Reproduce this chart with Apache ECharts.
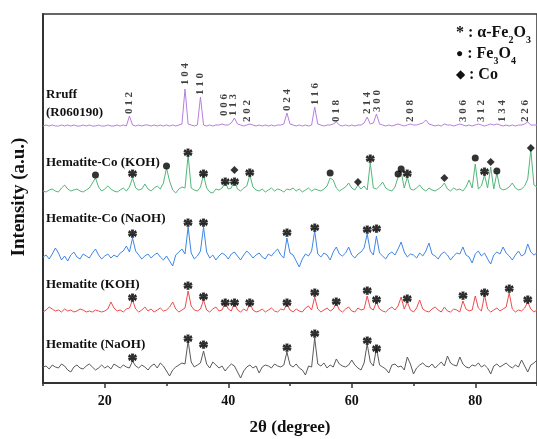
<!DOCTYPE html>
<html>
<head>
<meta charset="utf-8">
<title>XRD patterns</title>
<script src="https://cdn.jsdelivr.net/npm/echarts@6/dist/echarts.min.js"></script>
<style>
    html, body { margin: 0; padding: 0; background: #fff; }
    #xrd_patterns { width: 537px; height: 439px; }
</style>
</head>
<body>
<div id="xrd_patterns"></div>
<script>

// Measurement grid (2theta, degree)
var thetaStart = 10;
var thetaStep = 0.5;

// Relative intensities above each trace's baseline, one value per grid step (10 .. 90)
var rruffCounts = [
    0,1,0,1,0,0,1,0,1,0,  1,0,0,1,0,1,0,0,1,0,  0,1,0,0,1,0,1,0,10,1,  0,1,0,1,1,0,1,0,1,0,
    1,0,1,0,1,2,37,2,1,0,  1,29,1,0,1,0,1,1,2,1,  1,3,8,2,1,0,1,2,1,0,  1,0,1,0,1,0,1,1,2,13,
    2,1,0,1,0,1,0,1,19,2,  1,0,1,1,2,4,1,0,1,0,  1,0,1,1,3,9,2,3,12,2,  1,0,1,0,1,2,1,0,1,2,
    1,1,2,3,6,2,1,0,1,0,  2,1,1,0,1,2,1,0,1,0,  1,2,1,0,1,2,1,2,1,0,  1,0,1,0,1,1,2,4,1,1,
    1
];
var coKohCounts = [
    0,-1,1,2,0,-1,3,6,2,0,  1,2,0,-1,1,3,8,13,4,0,  2,5,2,0,-1,1,3,0,4,13,  3,1,2,7,2,0,3,5,2,8,
    23,10,1,-2,2,4,3,36,3,1,  0,4,16,3,-1,-2,2,1,3,9,  2,3,11,2,0,3,5,16,4,1,  0,2,-1,1,3,0,2,1,-1,2,
    1,3,0,2,-1,1,3,0,2,1,  0,2,5,13,11,3,0,2,4,8,  3,1,6,2,5,1,28,3,2,5,  9,3,1,0,4,14,19,3,14,2,
    1,3,6,2,0,3,1,0,2,4,  8,2,0,3,1,2,0,4,11,3,  27,2,5,16,3,24,2,18,3,1,  2,4,8,3,1,2,5,12,41,6,
    4
];
var coNaohCounts = [
    0,2,-2,3,9,4,-3,1,-4,2,  5,0,-2,3,1,-1,4,8,2,-2,  1,3,-1,2,0,4,6,11,5,19,  6,2,-2,1,3,-1,2,4,0,-3,
    1,-4,-9,2,5,8,3,30,4,-2,  1,6,30,5,-1,2,-3,1,4,2,  -2,3,5,1,-3,2,6,3,-1,2,  4,0,-2,3,1,5,8,2,-1,19,
    4,2,-4,-10,-2,3,1,6,26,3,  0,4,2,-3,5,10,3,1,4,10,  2,-1,3,5,9,23,6,2,21,4,  1,-2,3,5,2,8,15,5,0,3,
    2,-1,4,1,6,14,3,1,-2,3,  5,2,-3,1,4,3,10,2,0,-6,  3,6,1,4,-2,-7,2,5,3,10,  4,1,-3,2,6,1,3,13,5,2,
    4
];
var hemKohCounts = [
    0,2,5,3,1,2,0,3,1,2,  0,1,3,2,0,1,0,2,1,0,  1,3,10,4,1,2,0,3,4,12,  3,0,2,5,1,3,0,2,4,1,
    2,5,10,3,0,2,4,21,6,2,  1,3,12,2,0,3,5,1,2,9,  3,1,9,2,0,3,1,9,2,0,  1,3,0,2,4,1,0,3,2,8,
    2,0,3,1,0,4,6,2,15,3,  0,2,4,1,3,9,2,0,3,5,  1,0,4,2,3,16,4,2,10,3,  1,0,3,5,2,6,15,3,10,2,
    0,4,12,3,1,0,3,5,2,0,  5,1,0,3,2,0,11,3,1,2,  16,4,1,17,3,0,2,4,1,3,  5,19,3,0,2,1,4,10,3,0,
    2
];
var hemNaohCounts = [
    1,2,-1,3,1,0,4,2,-2,-4,  1,3,0,-1,2,4,1,-2,0,3,  0,2,-1,4,2,0,3,1,0,7,  2,0,3,1,-2,2,4,0,5,2,
    -3,-8,-2,1,3,5,4,27,6,1,  3,5,17,4,0,6,3,0,2,-3,  1,4,2,-4,-10,-3,1,3,0,2,  -5,1,3,2,0,4,2,1,3,16,
    3,1,4,0,-2,-7,2,1,30,4,  2,5,0,3,1,9,4,2,1,3,  8,3,0,-2,5,24,6,2,20,3,  1,-1,-5,3,4,1,2,-2,11,4,
    -6,0,3,5,2,1,4,0,3,6,  2,12,5,3,2,11,4,1,0,3,  2,5,1,3,0,-6,2,4,1,3,  5,2,0,3,1,8,2,-4,3,5,
    8
];

// Trace baselines (stacking offsets)
var rruffOffset = 257;
var coKohOffset = 192;
var coNaohOffset = 126;
var hemKohOffset = 71;
var hemNaohOffset = 15;

// Rruff reference reflections: hkl, 2theta, label height above baseline
var hklLabels = ['0 1 2', '1 0 4', '1 1 0', '0 0 6', '1 1 3', '2 0 2', '0 2 4', '1 1 6', '0 1 8', '2 1 4', '3 0 0', '2 0 8', '3 0 6', '3 1 2', '1 3 4', '2 2 6'];
var hklTheta = [24.0, 33.1, 35.5, 39.4, 40.8, 43.05, 49.5, 54.1, 57.5, 62.5, 64.1, 69.5, 78.0, 80.9, 84.4, 88.1];
var hklHeight = [23, 52, 42, 21, 21, 15, 26, 32, 15, 23, 25, 15, 15, 15, 15, 15];

// Phase markers: [2theta, height above baseline]
var coKohHematite = [[24.5, 18], [33.5, 39], [36.0, 18], [39.5, 10], [41.0, 10], [43.5, 19], [63.0, 33], [69.0, 18], [81.5, 20]];
var coKohMagnetite = [[18.5, 16], [30.0, 25], [56.5, 18], [67.5, 17], [68.0, 22], [80.0, 33], [83.5, 20]];
var coKohCobalt = [[41.0, 21], [61.0, 9], [75.0, 13], [82.5, 29], [89.0, 43]];
var coNaohHematite = [[24.5, 24], [33.5, 35], [36.0, 35], [49.5, 25], [54.0, 30], [62.5, 28], [64.0, 29]];
var hemKohHematite = [[24.5, 15], [33.5, 27], [36.0, 16], [39.5, 10], [41.0, 10], [43.5, 10], [49.5, 10], [54.0, 20], [57.5, 11], [62.5, 22], [64.0, 13], [69.0, 14], [78.0, 17], [81.5, 20], [85.5, 24], [88.5, 13]];
var hemNaohHematite = [[24.5, 11], [33.5, 30], [36.0, 24], [49.5, 21], [54.0, 35], [62.5, 28], [64.0, 20]];

// Tick labels
var xMajorTicks = [20, 40, 60, 80];
var xMinorTicks = [10, 30, 50, 70, 90];


// Setup module
// ------------------------------

var XrdPatterns = function() {

    var serif = '"Liberation Serif", "Times New Roman", serif';

    // Turn relative counts into [2theta, intensity] pairs
    var toPairs = function(counts, offset) {
        return counts.map(function(c, i) {
            return [thetaStart + i * thetaStep, c + offset];
        });
    };

    var toMarks = function(marks, offset) {
        return marks.map(function(m) {
            return [m[0], m[1] + offset];
        });
    };

    var traceSeries = function(name, counts, offset, color) {
        return {
            name: name,
            type: 'line',
            data: toPairs(counts, offset),
            symbol: 'none',
            silent: true,
            lineStyle: { color: color, width: 1 },
            z: 2
        };
    };

    var starSeries = function(marks, offset) {
        return {
            type: 'scatter',
            data: toMarks(marks, offset),
            symbolSize: 1,
            itemStyle: { color: 'rgba(0,0,0,0)' },
            label: {
                show: true,
                position: 'inside',
                formatter: '*',
                color: '#111',
                fontFamily: serif,
                fontWeight: 'bold',
                fontSize: 19,
                textBorderColor: '#111',
                textBorderWidth: 1,
                offset: [0, 5]
            },
            z: 5
        };
    };

    var symbolSeries = function(marks, offset, symbol, size) {
        return {
            type: 'scatter',
            data: toMarks(marks, offset),
            symbol: symbol,
            symbolSize: size,
            itemStyle: { color: '#000' },
            z: 6
        };
    };

    var _xrdChart = function() {
        if (typeof echarts == 'undefined') {
            console.warn('Warning - echarts.min.js is not loaded.');
            return;
        }

        var chart_element = document.getElementById('xrd_patterns');
        if (!chart_element) {
            return;
        }

        var chart = echarts.init(chart_element, null, { renderer: 'canvas' });

        // Miller index labels over the Rruff trace
        var hklData = hklLabels.map(function(lbl, i) {
            return { name: lbl, value: [hklTheta[i], hklHeight[i] + rruffOffset] };
        });

        var textBase = { fontFamily: serif, fontWeight: 'bold', fill: '#111' };
        var traceName = function(text, y) {
            return {
                type: 'text', x: 46, y: y,
                style: Object.assign({ text: text, fontSize: 13, verticalAlign: 'middle' }, textBase)
            };
        };
        var legendRich = {
            f: { fontFamily: serif, fontWeight: 'bold', fontSize: 16, fill: '#111' },
            s: { fontFamily: serif, fontWeight: 'bold', fontSize: 10, fill: '#111', verticalAlign: 'bottom', padding: [0, 0, -4, 0] },
            m: { fontFamily: serif, fontSize: 12, fill: '#111' }
        };

        chart.setOption({
            animation: false,
            backgroundColor: '#fff',

            grid: {
                left: 43,
                right: -5,
                top: 14,
                bottom: 56,
                show: true,
                borderColor: '#333',
                borderWidth: 1.5
            },

            xAxis: [{
                type: 'value',
                min: 10,
                max: 90,
                interval: 10,
                axisLine: { lineStyle: { color: '#333', width: 2 } },
                axisTick: { length: 5, customValues: xMajorTicks, lineStyle: { color: '#333', width: 1.5 } },
                axisLabel: {
                    customValues: xMajorTicks,
                    margin: 11,
                    color: '#111',
                    fontFamily: serif,
                    fontWeight: 'bold',
                    fontSize: 14
                },
                splitLine: { show: false }
            }, {
                type: 'value',
                min: 10,
                max: 90,
                position: 'bottom',
                axisLine: { show: false },
                axisTick: { length: 3, customValues: xMinorTicks, lineStyle: { color: '#333', width: 1.5 } },
                axisLabel: { show: false },
                splitLine: { show: false }
            }],

            yAxis: {
                type: 'value',
                min: 0,
                max: 369,
                axisLine: { show: true, lineStyle: { color: '#333', width: 2 } },
                axisTick: { show: false },
                axisLabel: { show: false },
                splitLine: { show: false }
            },

            graphic: [
                {
                    type: 'text', x: 290, y: 428,
                    style: Object.assign({ text: '2\u03b8 (degree)', fontSize: 17, align: 'center', verticalAlign: 'middle' }, textBase)
                },
                {
                    type: 'text', x: 19, y: 197, rotation: Math.PI / 2,
                    style: Object.assign({ text: 'Intensity (a.u.)', fontSize: 19, align: 'center', verticalAlign: 'middle' }, textBase)
                },
                traceName('Rruff', 95),
                traceName('(R060190)', 113),
                traceName('Hematite-Co (KOH)', 163),
                traceName('Hematite-Co (NaOH)', 219),
                traceName('Hematite (KOH)', 285),
                traceName('Hematite (NaOH)', 345),
                {
                    type: 'text', x: 456, y: 33,
                    style: { text: '{f|* : \u03b1-Fe}{s|2}{f|O}{s|3}', rich: legendRich, verticalAlign: 'middle' }
                },
                {
                    type: 'text', x: 456, y: 54,
                    style: { text: '{m|\u25cf}{f| : Fe}{s|3}{f|O}{s|4}', rich: legendRich, verticalAlign: 'middle' }
                },
                {
                    type: 'text', x: 456, y: 75,
                    style: { text: '{m|\u25c6}{f| : Co}', rich: legendRich, verticalAlign: 'middle' }
                }
            ],

            series: [
                traceSeries('Rruff (R060190)', rruffCounts, rruffOffset, '#b77ee0'),
                traceSeries('Hematite-Co (KOH)', coKohCounts, coKohOffset, '#52b779'),
                traceSeries('Hematite-Co (NaOH)', coNaohCounts, coNaohOffset, '#3f86e6'),
                traceSeries('Hematite (KOH)', hemKohCounts, hemKohOffset, '#ef4b4b'),
                traceSeries('Hematite (NaOH)', hemNaohCounts, hemNaohOffset, '#5a5a5a'),
                {
                    type: 'scatter',
                    data: hklData,
                    symbolSize: 1,
                    itemStyle: { color: 'rgba(0,0,0,0)' },
                    label: {
                        show: true,
                        position: 'inside',
                        rotate: 90,
                        formatter: '{b}',
                        color: '#111',
                        fontFamily: serif,
                        fontWeight: 'bold',
                        fontSize: 11
                    },
                    z: 5
                },
                starSeries(coKohHematite, coKohOffset),
                symbolSeries(coKohMagnetite, coKohOffset, 'circle', 7),
                symbolSeries(coKohCobalt, coKohOffset, 'diamond', 8),
                starSeries(coNaohHematite, coNaohOffset),
                starSeries(hemKohHematite, hemKohOffset),
                starSeries(hemNaohHematite, hemNaohOffset)
            ]
        });

        window.addEventListener('resize', function() {
            chart.resize();
        });
    };

    return {
        init: function() {
            _xrdChart();
        }
    };
}();


// Initialize module
// ------------------------------

document.addEventListener('DOMContentLoaded', function() {
    XrdPatterns.init();
});
</script>
</body>
</html>
